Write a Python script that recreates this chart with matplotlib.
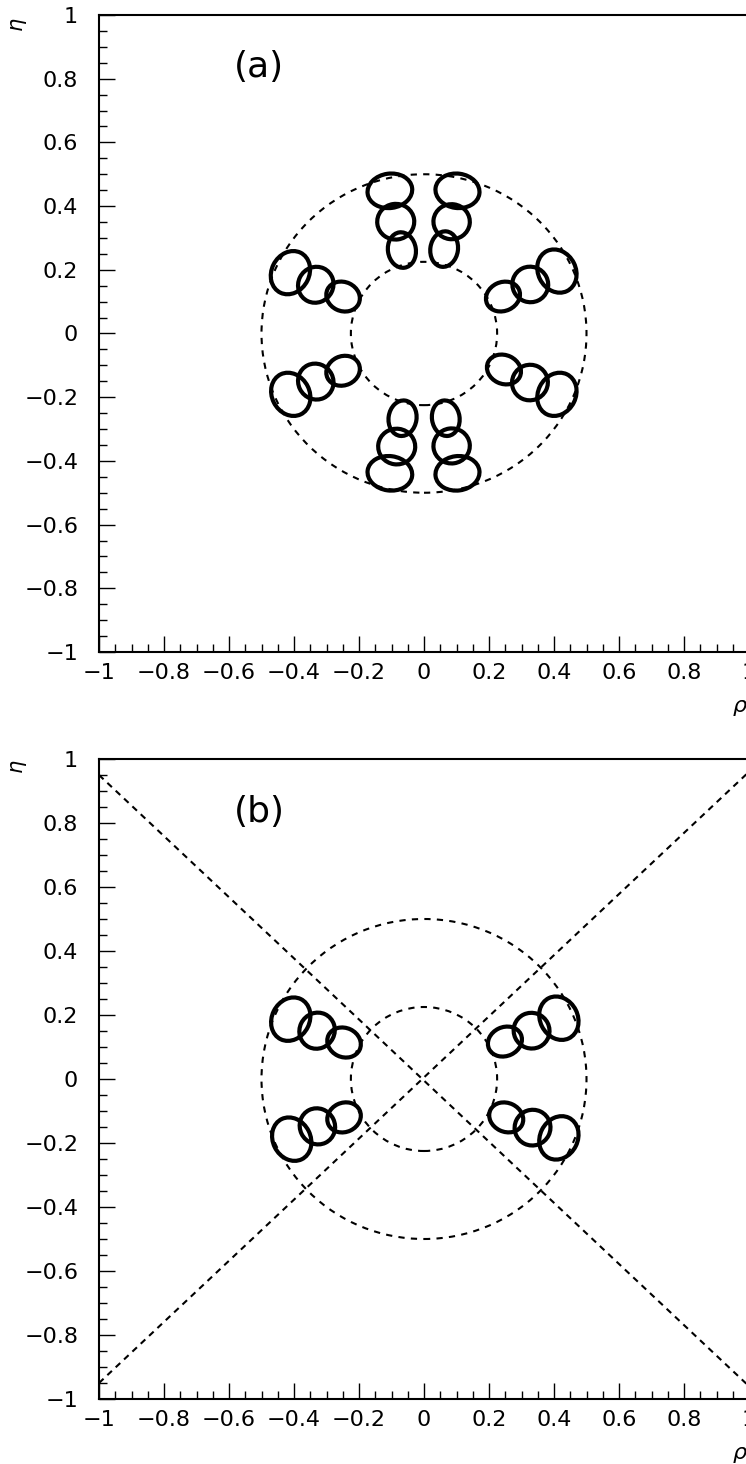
import matplotlib
matplotlib.use("Agg")
import matplotlib.pyplot as plt
from matplotlib.patches import Ellipse, Circle
from matplotlib.ticker import FixedLocator, MultipleLocator, FuncFormatter

plt.rcParams['font.family'] = ['DejaVu Sans']
plt.rcParams['mathtext.fontset'] = 'dejavusans'

# ---- contour ellipses, panel (a): 8 chains of 3 (inner, middle, outer) ----
a_rho = [0.062, 0.085, 0.103,     -0.068, -0.087, -0.105,
         0.243, 0.327, 0.409,     -0.249, -0.333, -0.411,
         0.246, 0.326, 0.409,     -0.249, -0.333, -0.410,
         0.067, 0.085, 0.103,     -0.066, -0.084, -0.105]
a_eta = [0.265, 0.351, 0.448,      0.262, 0.351, 0.448,
         0.116, 0.154, 0.196,      0.116, 0.153, 0.191,
         -0.113, -0.154, -0.191,  -0.117, -0.151, -0.191,
         -0.266, -0.353, -0.439,  -0.266, -0.355, -0.439]
a_width = [0.085, 0.112, 0.136,   0.086, 0.114, 0.138,
           0.108, 0.110, 0.116,   0.106, 0.108, 0.116,
           0.108, 0.110, 0.116,   0.106, 0.108, 0.116,
           0.085, 0.112, 0.136,   0.086, 0.114, 0.138]
a_height = [0.112, 0.110, 0.108,  0.112, 0.112, 0.108,
            0.090, 0.112, 0.140,  0.091, 0.114, 0.140,
            0.090, 0.112, 0.140,  0.091, 0.114, 0.140,
            0.112, 0.110, 0.108,  0.112, 0.112, 0.108]
a_angle = [-8, -8, -8,   8, 8, 8,
           26, 26, 26,  -26, -26, -26,
           -26, -26, -26, 26, 26, 26,
           8, 8, 8,     -8, -8, -8]

# ---- panel (b): only the 4 side chains survive ----
b_rho = [-0.246, -0.329, -0.410,   0.249, 0.331, 0.415,
         -0.246, -0.328, -0.407,   0.253, 0.334, 0.415]
b_eta = [0.114, 0.151, 0.187,      0.117, 0.151, 0.190,
         -0.120, -0.148, -0.188,  -0.120, -0.152, -0.184]
b_width = [0.106, 0.108, 0.116,   0.108, 0.110, 0.116,
           0.106, 0.108, 0.116,   0.108, 0.110, 0.116]
b_height = [0.091, 0.114, 0.140,  0.090, 0.112, 0.140,
            0.091, 0.114, 0.140,  0.090, 0.112, 0.140]
b_angle = [-26, -26, -26,   26, 26, 26,
           26, 26, 26,     -26, -26, -26]

ring_radii = [0.225, 0.5]

# diagonal cuts drawn in (b)
diag_rho = [-1.0, 1.0]
diag_eta_1 = [0.95, -0.96]
diag_eta_2 = [-0.95, 0.96]

tick_vals = [-1, -0.8, -0.6, -0.4, -0.2, 0, 0.2, 0.4, 0.6, 0.8, 1]

W, H = 746, 1464
fig = plt.figure(figsize=(W / 100, H / 100), dpi=100)


def fmt(v, pos):
    s = f"{round(v, 6):g}"
    if s == "-0":
        s = "0"
    return s.replace("-", "\u2212")


def setup_axes(ax):
    ax.set_xlim(-1, 1)
    ax.set_ylim(-1, 1)
    ax.xaxis.set_major_locator(FixedLocator(tick_vals))
    ax.yaxis.set_major_locator(FixedLocator(tick_vals))
    ax.xaxis.set_minor_locator(MultipleLocator(0.05))
    ax.yaxis.set_minor_locator(MultipleLocator(0.05))
    ax.xaxis.set_major_formatter(FuncFormatter(fmt))
    ax.yaxis.set_major_formatter(FuncFormatter(fmt))
    ax.tick_params(which='both', direction='in', top=False, right=False,
                   width=1.0, labelsize=16)
    ax.tick_params(which='major', length=11.5)
    ax.tick_params(which='minor', length=6)
    ax.tick_params(axis='x', pad=8)
    ax.tick_params(axis='y', pad=15)
    for sp in ax.spines.values():
        sp.set_linewidth(1.5)


def draw_rings(ax):
    for r in ring_radii:
        ax.add_patch(Circle((0, 0), r, fill=False, color='black', lw=1.5,
                            linestyle=(0, (3, 3))))


def draw_ellipses(ax, xs, ys, ws, hs, angs):
    for x, y, w, h, a in zip(xs, ys, ws, hs, angs):
        ax.add_patch(Ellipse((x, y), w, h, angle=a, fill=False,
                             color='black', lw=3.0))


# panel positions in figure fraction
left = 99 / W
width = 650 / W
ax_a = fig.add_axes([left, 1 - 652 / H, width, 637 / H])
ax_b = fig.add_axes([left, 1 - 1399 / H, width, 640 / H])

for ax in (ax_a, ax_b):
    setup_axes(ax)
    draw_rings(ax)

draw_ellipses(ax_a, a_rho, a_eta, a_width, a_height, a_angle)
draw_ellipses(ax_b, b_rho, b_eta, b_width, b_height, b_angle)

ax_b.plot(diag_rho, diag_eta_1, color='black', lw=1.5, linestyle=(0, (3, 2.5)))
ax_b.plot(diag_rho, diag_eta_2, color='black', lw=1.5, linestyle=(0, (3, 2.5)))

ax_a.text(-0.508, 0.837, "(a)", fontsize=26, ha='center', va='center')
ax_b.text(-0.508, 0.833, "(b)", fontsize=26, ha='center', va='center')

# axis titles sit at the corners, as in the old PAW layout
fig.text(19 / W, 1 - 25 / H, r'$\eta$', fontsize=15, rotation=90,
         ha='center', va='center')
fig.text(19 / W, 1 - 767 / H, r'$\eta$', fontsize=15, rotation=90,
         ha='center', va='center')
fig.text(740 / W, 1 - 708 / H, r'$\rho$', fontsize=16, ha='center', va='center')
fig.text(740 / W, 1 - 1455 / H, r'$\rho$', fontsize=16, ha='center', va='center')

fig.savefig("out.png", dpi=100)
